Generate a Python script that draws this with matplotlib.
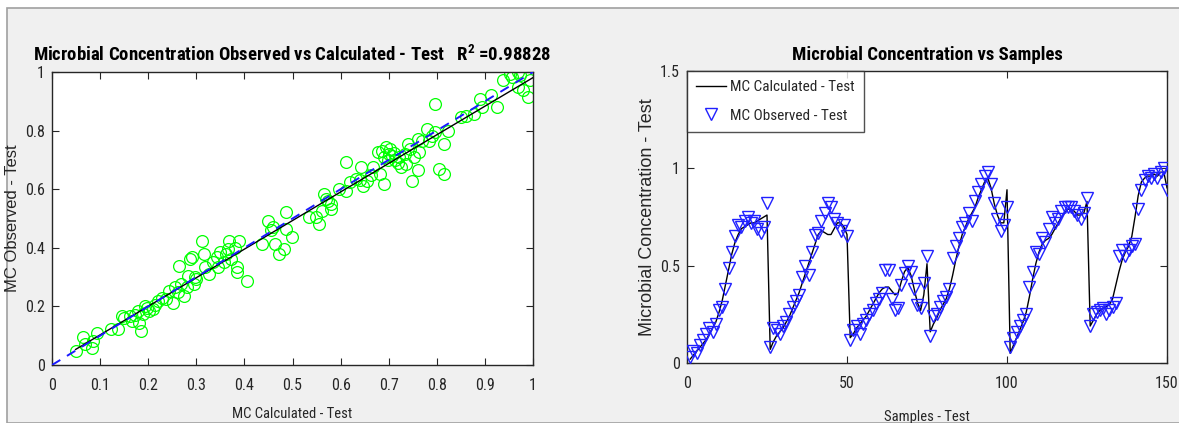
import numpy as np
import matplotlib
matplotlib.use("Agg")
import matplotlib.pyplot as plt
from matplotlib.patches import Rectangle
from matplotlib import font_manager

# ---------------- data ----------------
samples = list(range(1, 151))

mc_calculated = [
    0.02, 0.04, 0.06, 0.08, 0.10, 0.12, 0.15, 0.18, 0.21, 0.26, 0.32, 0.40, 0.48,
    0.56, 0.62, 0.66, 0.69, 0.70, 0.71, 0.72, 0.72, 0.73, 0.74, 0.75, 0.76,
    0.07, 0.11, 0.14, 0.16, 0.18, 0.21, 0.24, 0.28, 0.32, 0.36, 0.41, 0.46, 0.51,
    0.56, 0.61, 0.66, 0.68, 0.67, 0.66, 0.66, 0.69, 0.72, 0.72, 0.70, 0.66,
    0.13, 0.15, 0.18, 0.20, 0.22, 0.24, 0.27, 0.30, 0.33, 0.36, 0.38, 0.39, 0.39,
    0.37, 0.35, 0.36, 0.42, 0.47, 0.49, 0.45, 0.38, 0.31, 0.27, 0.35, 0.51,
    0.16, 0.20, 0.23, 0.27, 0.30, 0.33, 0.38, 0.45, 0.53, 0.60, 0.66, 0.70, 0.74,
    0.77, 0.80, 0.85, 0.89, 0.93, 0.95, 0.90, 0.82, 0.76, 0.72, 0.72, 0.89,
    0.05, 0.09, 0.13, 0.17, 0.21, 0.26, 0.34, 0.43, 0.51, 0.57, 0.61, 0.63, 0.64,
    0.66, 0.69, 0.72, 0.75, 0.77, 0.79, 0.79, 0.78, 0.76, 0.76, 0.77, 0.83,
    0.19, 0.22, 0.25, 0.27, 0.28, 0.29, 0.30, 0.33, 0.40, 0.47, 0.53, 0.57, 0.60,
    0.65, 0.75, 0.86, 0.93, 0.95, 0.96, 0.96, 0.97, 0.96, 0.98, 0.98, 0.90,
]

mc_observed = [
    0.03, 0.06, 0.05, 0.09, 0.12, 0.15, 0.18, 0.16, 0.20, 0.27, 0.29, 0.38, 0.49,
    0.57, 0.65, 0.71, 0.70, 0.73, 0.75, 0.72, 0.73, 0.69, 0.67, 0.70, 0.82,
    0.08, 0.18, 0.17, 0.15, 0.19, 0.21, 0.25, 0.29, 0.32, 0.35, 0.44, 0.50, 0.45,
    0.57, 0.66, 0.67, 0.73, 0.77, 0.82, 0.80, 0.74, 0.72, 0.68, 0.71, 0.65,
    0.12, 0.17, 0.19, 0.15, 0.20, 0.22, 0.25, 0.27, 0.31, 0.33, 0.36, 0.48, 0.48,
    0.33, 0.27, 0.28, 0.40, 0.46, 0.50, 0.47, 0.38, 0.30, 0.28, 0.41, 0.55,
    0.14, 0.24, 0.25, 0.29, 0.32, 0.34, 0.38, 0.54, 0.60, 0.64, 0.70, 0.72, 0.77,
    0.73, 0.83, 0.88, 0.92, 0.96, 0.98, 0.92, 0.82, 0.74, 0.68, 0.71, 0.80,
    0.08, 0.13, 0.16, 0.19, 0.22, 0.25, 0.39, 0.47, 0.57, 0.56, 0.64, 0.62, 0.69,
    0.75, 0.72, 0.74, 0.78, 0.80, 0.80, 0.80, 0.78, 0.76, 0.74, 0.77, 0.85,
    0.19, 0.25, 0.26, 0.27, 0.28, 0.25, 0.27, 0.29, 0.31, 0.55, 0.58, 0.55, 0.58,
    0.60, 0.61, 0.79, 0.89, 0.94, 0.96, 0.95, 0.97, 0.95, 0.98, 1.00, 0.89,
]

# points of the observed-vs-calculated scatter
scatter_calc = [
    0.049, 0.064, 0.068, 0.084, 0.086, 0.094, 0.123, 0.138, 0.146, 0.162, 0.166,
    0.178, 0.181, 0.185, 0.189, 0.193, 0.201, 0.209, 0.221, 0.236, 0.244, 0.252,
    0.256, 0.268, 0.264, 0.275, 0.283, 0.287, 0.291, 0.295, 0.299, 0.311, 0.315,
    0.318, 0.326, 0.342, 0.346, 0.350, 0.362, 0.365, 0.369, 0.373, 0.381, 0.385,
    0.385, 0.389, 0.405, 0.437, 0.450, 0.459, 0.463, 0.472, 0.483, 0.487, 0.487,
    0.498, 0.534, 0.549, 0.556, 0.561, 0.565, 0.573, 0.581, 0.581, 0.596, 0.612,
    0.612, 0.620, 0.631, 0.643, 0.647, 0.655, 0.663, 0.667, 0.682, 0.690, 0.678,
    0.686, 0.694, 0.702, 0.690, 0.698, 0.706, 0.714, 0.721, 0.725, 0.733, 0.737,
    0.741, 0.745, 0.749, 0.753, 0.761, 0.761, 0.764, 0.780, 0.784, 0.796, 0.796,
    0.804, 0.815, 0.815, 0.824, 0.851, 0.878, 0.890, 0.893, 0.913, 0.925, 0.937,
    0.952, 0.956, 0.968, 0.972, 0.968, 0.980, 0.990, 0.994,
    0.150, 0.172, 0.197, 0.215, 0.228, 0.262, 0.280, 0.297, 0.335, 0.357, 0.455,
    0.570, 0.640, 0.700, 0.710, 0.720, 0.770, 0.790, 0.860,
]
scatter_obs = [
    0.048, 0.094, 0.071, 0.059, 0.082, 0.110, 0.122, 0.122, 0.168, 0.168, 0.150,
    0.185, 0.145, 0.116, 0.173, 0.202, 0.185, 0.190, 0.219, 0.225, 0.253, 0.213,
    0.265, 0.276, 0.339, 0.236, 0.304, 0.361, 0.367, 0.276, 0.293, 0.424, 0.379,
    0.333, 0.310, 0.367, 0.333, 0.384, 0.379, 0.396, 0.424, 0.361, 0.401, 0.333,
    0.316, 0.424, 0.287, 0.413, 0.493, 0.470, 0.413, 0.379, 0.396, 0.464, 0.521,
    0.436, 0.504, 0.504, 0.481, 0.527, 0.584, 0.561, 0.532, 0.550, 0.601, 0.595,
    0.692, 0.624, 0.635, 0.675, 0.612, 0.629, 0.647, 0.675, 0.652, 0.618, 0.726,
    0.732, 0.743, 0.738, 0.709, 0.698, 0.715, 0.698, 0.709, 0.675, 0.721, 0.686,
    0.755, 0.738, 0.629, 0.709, 0.664, 0.772, 0.726, 0.806, 0.766, 0.892, 0.795,
    0.669, 0.652, 0.755, 0.800, 0.846, 0.857, 0.909, 0.880, 0.920, 0.880, 0.971,
    0.994, 0.983, 1.000, 0.989, 0.949, 0.937, 0.914, 0.971,
    0.160, 0.170, 0.195, 0.205, 0.230, 0.250, 0.265, 0.300, 0.350, 0.350, 0.460,
    0.565, 0.630, 0.720, 0.725, 0.690, 0.765, 0.780, 0.850,
]

left_title = r"Microbial Concentration Observed vs Calculated - Test   $\mathregular{R^2}$ =0.98828"
right_title = "Microbial Concentration vs Samples"
left_xlabel = "MC Calculated - Test"
left_ylabel = "MC Observed - Test"
right_xlabel = "Samples - Test"
right_ylabel = "Microbial Concentration - Test"
legend_labels = ["MC Calculated - Test", "MC Observed - Test"]

left_xticks = [0, 0.1, 0.2, 0.3, 0.4, 0.5, 0.6, 0.7, 0.8, 0.9, 1]
left_xticklabels = ["0", "0.1", "0.2", "0.3", "0.4", "0.5", "0.6", "0.7", "0.8", "0.9", "1"]
left_yticks = [0, 0.2, 0.4, 0.6, 0.8, 1]
left_yticklabels = ["0", "0.2", "0.4", "0.6", "0.8", "1"]
right_xticks = [0, 50, 100, 150]
right_xticklabels = ["0", "50", "100", "150"]
right_yticks = [0, 0.5, 1, 1.5]
right_yticklabels = ["0", "0.5", "1", "1.5"]

# ---------------- fonts: look for a condensed sans ----------------
entries = font_manager.fontManager.ttflist
names = {f.name for f in entries}
narrow_family, narrow_stretch, is_narrow = "Liberation Sans", "normal", False
for cand in ["Liberation Sans Narrow", "Arial Narrow", "Roboto Condensed",
             "Open Sans Condensed", "Noto Sans Condensed", "DejaVu Sans Condensed"]:
    if cand in names:
        narrow_family, is_narrow = cand, True
        break
if not is_narrow:
    for fam in ["Noto Sans", "Open Sans", "Roboto", "DejaVu Sans"]:
        if any(f.name == fam and str(f.stretch) in ("condensed", "semi-condensed",
                                                     "extra-condensed", "ultra-condensed")
               for f in entries):
            narrow_family, narrow_stretch, is_narrow = fam, "condensed", True
            break

NARROW = [narrow_family, "DejaVu Sans"]
REG = ["Liberation Sans", "DejaVu Sans"]
plt.rcParams["font.family"] = NARROW
plt.rcParams["font.stretch"] = narrow_stretch

TITLE_FS = 13.5 if is_narrow else 11.5
TICK_FS = 11.5 if is_narrow else 10.5
LAB_FS = 10.5 if is_narrow else 9.5
LEG_FS = 11 if is_narrow else 10

W, H = 1179, 423
fig = plt.figure(figsize=(W / 100, H / 100), dpi=100, facecolor="white")
fig.patches.append(Rectangle((7 / W, 0), 1, 1 - 8 / H, transform=fig.transFigure,
                             facecolor="#f0f0f0", edgecolor="#a0a0a0", linewidth=1.2,
                             zorder=-10))

TXT = "#262626"

def style_axes(ax):
    for s in ax.spines.values():
        s.set_color(TXT)
        s.set_linewidth(1.0)
    ax.tick_params(direction="in", top=True, right=True, length=5, width=0.8,
                   color=TXT, labelcolor=TXT, labelsize=TICK_FS)
    ax.tick_params(axis="x", pad=9)
    ax.tick_params(axis="y", pad=5)
    ax.set_facecolor("white")

# ---------------- left: observed vs calculated ----------------
ax1 = fig.add_axes([52 / W, 1 - 365 / H, 481 / W, 293 / H])
style_axes(ax1)
sc_x = np.array(scatter_calc)
sc_y = np.array(scatter_obs)
ax1.plot(sc_x, sc_y, "o", mfc="none", mec="#00ff00", ms=8.5, mew=0.9, zorder=2)
coef = np.polyfit(sc_x, sc_y, 1)
xl = np.array([sc_x.min(), 1.0])
ax1.plot(xl, np.polyval(coef, xl), "-", color="black", lw=1.0, zorder=3)
ax1.plot([0, 1], [0, 1], "--", color="#1a1aff", lw=1.4, dashes=(5, 4), zorder=4)
ax1.set_xlim(0, 1)
ax1.set_ylim(0, 1)
ax1.set_xticks(left_xticks)
ax1.set_xticklabels(left_xticklabels)
ax1.set_yticks(left_yticks)
ax1.set_yticklabels(left_yticklabels)
ax1.set_title(left_title, fontsize=TITLE_FS, fontweight="bold", color="black", pad=8)
ax1.set_xlabel(left_xlabel, fontsize=LAB_FS, color=TXT)
ax1.xaxis.set_label_coords(0.5, -0.145)
ax1.set_ylabel(left_ylabel, fontsize=12, color=TXT, family=REG)
ax1.yaxis.set_label_coords(-0.066, 0.5)

# ---------------- right: concentration vs samples ----------------
ax2 = fig.add_axes([687 / W, 1 - 363 / H, 480 / W, 292 / H])
style_axes(ax2)
ax2.plot(samples, mc_calculated, "-", color="black", lw=1.0, label=legend_labels[0], zorder=2)
ax2.plot(samples, mc_observed, "v", mfc="none", mec="#2020ff", ms=9, mew=1.0,
         linestyle="none", label=legend_labels[1], zorder=3)
ax2.set_xlim(0, 150)
ax2.set_ylim(0, 1.5)
ax2.set_xticks(right_xticks)
ax2.set_xticklabels(right_xticklabels)
ax2.set_yticks(right_yticks)
ax2.set_yticklabels(right_yticklabels)
ax2.set_title(right_title, fontsize=TITLE_FS, fontweight="bold", color="black", pad=8)
ax2.set_xlabel(right_xlabel, fontsize=LAB_FS, color=TXT)
ax2.xaxis.set_label_coords(0.5, -0.16)
ax2.set_ylabel(right_ylabel, fontsize=13, color=TXT, family=REG)
ax2.yaxis.set_label_coords(-0.065, 0.5)
leg = ax2.legend(loc="upper left", fontsize=LEG_FS, frameon=True, fancybox=False,
                 borderaxespad=0, handlelength=1.95, handletextpad=0.25,
                 borderpad=0.6, labelspacing=0.95)
leg.get_frame().set_edgecolor(TXT)
leg.get_frame().set_linewidth(1.0)
for t in leg.get_texts():
    t.set_color(TXT)

fig.savefig("out.png", dpi=100, facecolor=fig.get_facecolor())
